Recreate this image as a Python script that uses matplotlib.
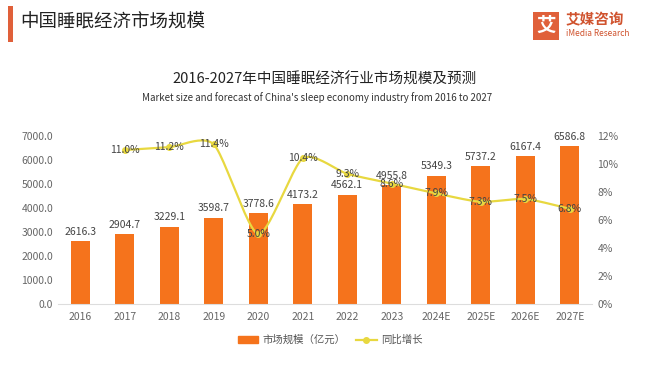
import numpy as np
import matplotlib
matplotlib.use("Agg")
import matplotlib.pyplot as plt
from matplotlib.patches import Rectangle
from matplotlib.lines import Line2D

plt.rcParams['font.family'] = ['Noto Sans CJK SC', 'DejaVu Sans']

years = ["2016", "2017", "2018", "2019", "2020", "2021", "2022", "2023",
         "2024E", "2025E", "2026E", "2027E"]
market = [2616.3, 2904.7, 3229.1, 3598.7, 3778.6, 4173.2, 4562.1, 4955.8,
          5349.3, 5737.2, 6167.4, 6586.8]
growth = [None, 11.0, 11.2, 11.4, 5.0, 10.4, 9.3, 8.6, 7.9, 7.3, 7.5, 6.8]
left_ticks = [0, 1000, 2000, 3000, 4000, 5000, 6000, 7000]
right_ticks = [0, 2, 4, 6, 8, 10, 12]

BAR = "#F5731C"
LINE = "#E8D840"
TXT = "#444444"
TICK = "#666666"

fig = plt.figure(figsize=(6.6, 3.73), dpi=100)
fig.patch.set_facecolor("white")

# header
fig.add_artist(Rectangle((8/660, 1-42/373), 5/660, 36/373, transform=fig.transFigure,
                         color="#E0603A", lw=0))
fig.text(20/660, 1-23/373, "中国睡眠经济市场规模", fontsize=13.3, color="#222222",
         va="center", ha="left")
# logo
fig.add_artist(Rectangle((533/660, 1-40/373), 26/660, 28/373, transform=fig.transFigure,
                         color="#E0603A", lw=0))
fig.text(546/660, 1-26/373, "艾", fontsize=14, color="white", ha="center", va="center",
         fontweight="bold")
fig.text(566/660, 1-19/373, "艾媒咨询", fontsize=10.5, color="#D0532E", ha="left",
         va="center", fontweight="bold")
fig.text(566/660, 1-33/373, "iMedia Research", fontsize=6, color="#D0532E", ha="left",
         va="center")

fig.text(325/660, 1-80/373, "2016-2027年中国睡眠经济行业市场规模及预测", fontsize=10.5,
         color="#222222", ha="center", va="center")
fig.text(317/660, 1-98/373,
         "Market size and forecast of China's sleep economy industry from 2016 to 2027",
         fontsize=7, color="#333333", ha="center", va="center")

ax = fig.add_axes([58/660, 69/373, 534/660, 168/373])
x = np.arange(len(years))
ax.bar(x, market, width=0.43, color=BAR, zorder=2)
ax.set_xlim(-0.5, len(years) - 0.5)
ax.set_ylim(0, 7000)
ax.set_yticks(left_ticks)
ax.set_yticklabels([f"{v:.1f}" for v in left_ticks])
ax.set_xticks(x)
ax.set_xticklabels(years)
for s in ["top", "right", "left"]:
    ax.spines[s].set_visible(False)
ax.spines["bottom"].set_color("#DDDDDD")
ax.tick_params(axis="both", length=0, labelsize=7.5, colors=TICK)
ax.tick_params(axis="x", pad=6)
for xi, v in zip(x, market):
    ax.text(xi, v + 180, f"{v:.1f}", ha="center", va="bottom", fontsize=7.5, color=TXT)

ax2 = ax.twinx()
ax2.set_ylim(0, 12)
ax2.set_yticks(right_ticks)
ax2.set_yticklabels([f"{v}%" for v in right_ticks])
for s in ["top", "right", "left", "bottom"]:
    ax2.spines[s].set_visible(False)
ax2.tick_params(axis="y", length=0, labelsize=7.5, colors=TICK, pad=4)

gx = np.array([xi for xi, g in zip(x, growth) if g is not None], dtype=float)
gy = np.array([g for g in growth if g is not None], dtype=float)

# cubic Hermite smoothing with reduced tension (drawing only)
def smooth(px, py, n=24, k=0.35):
    P = np.column_stack([px, py])
    T = np.zeros_like(P)
    T[1:-1] = (P[2:] - P[:-2]) * k
    T[0] = (P[1] - P[0]) * k
    T[-1] = (P[-1] - P[-2]) * k
    out = []
    for i in range(len(P) - 1):
        p1, p2, m1, m2 = P[i], P[i+1], T[i], T[i+1]
        for t in np.linspace(0, 1, n, endpoint=False):
            h00 = 2*t**3 - 3*t**2 + 1
            h10 = t**3 - 2*t**2 + t
            h01 = -2*t**3 + 3*t**2
            h11 = t**3 - t**2
            out.append(h00*p1 + h10*m1 + h01*p2 + h11*m2)
    out.append(P[-1])
    out = np.array(out)
    return out[:, 0], out[:, 1]

sx, sy = smooth(gx, gy)
ax2.plot(sx, sy, color=LINE, lw=1.6, zorder=3)
ax2.plot(gx, gy, 'o', color=LINE, ms=4, zorder=4)
for xi, g in zip(gx, gy):
    ax2.text(xi, g, f"{g:.1f}%", ha="center", va="center", fontsize=7.5, color=TXT,
             zorder=5)

handles = [Rectangle((0, 0), 1, 1, color=BAR),
           Line2D([0], [0], color=LINE, lw=1.6, marker='o', ms=4)]
fig.legend(handles, ["市场规模（亿元）", "同比增长"], loc="center",
           bbox_to_anchor=(330/660, 1-340/373), ncol=2, frameon=False, fontsize=7.5,
           handlelength=2.0, handleheight=0.6, columnspacing=1.0, handletextpad=0.4,
           labelcolor="#555555")

fig.savefig("out.png", dpi=100, facecolor="white")
